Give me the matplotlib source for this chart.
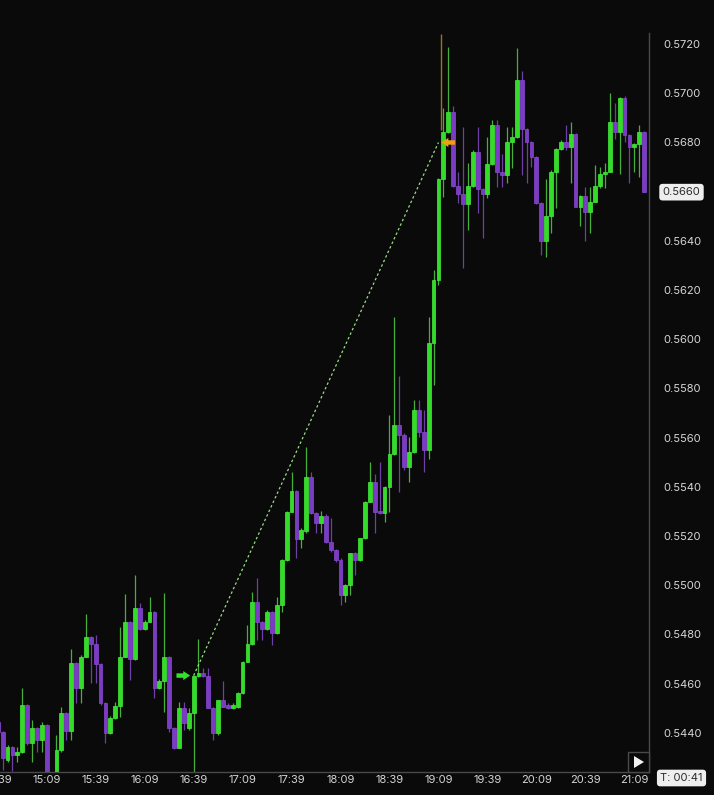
import numpy as np
import matplotlib
matplotlib.use("Agg")
import matplotlib.pyplot as plt
from matplotlib import transforms
from matplotlib.patches import Rectangle, Polygon

# ---------------- data (3-minute candles, first candle 14:39) ----------------
opens = [
    .54444, .54403, .54289, .54342, .54310, .54322, .54513, .54359, .54420, .54371,
    .54432, .54233, .54224, .54330, .54480, .54407, .54684, .54582, .54708, .54789,
    .54761, .54680, .54521, .54399, .54460, .54509, .54708, .54850, .54700, .54907,
    .54822, .54850, .54891, .54582, .54611, .54708, .54420, .54338, .54501, .54420,
    .54480, .54631, .54643, .54631, .54501, .54399, .54533, .54513, .54501, .54505,
    .54562, .54688, .54761, .54932, .54850, .54822, .54891, .54806, .54920, .55102,
    .55298, .55383, .55188, .55220, .55440, .55294, .55253, .55281, .55176, .55143,
    .55102, .54960, .55001, .55131, .55102, .55192, .55338, .55420, .55302, .55294,
    .55399, .55533, .55651, .55611, .55480, .55541, .55712, .55623, .55550, .55985,
    .56241, .56651, .56842, .56924, .56623, .56590, .56550, .56623, .56761, .56611,
    .56590, .56712, .56871, .56680, .56667, .56802, .56822, .57054, .56854, .56802,
    .56741, .56554, .56399, .56501, .56680, .56773, .56802, .56781, .56834, .56537,
    .56582, .56517, .56558, .56623, .56672, .56680, .56883, .56842, .56980, .56830,
    .56781, .56794, .56842]
highs = [
    .54452, .54407, .54350, .54346, .54342, .54582, .54517, .54452, .54424, .54444,
    .54436, .54233, .54391, .54505, .54485, .54741, .54688, .54716, .54883, .54794,
    .54798, .54684, .54525, .54468, .54525, .54830, .54964, .54855, .55042, .54928,
    .54859, .54952, .54895, .54619, .54968, .54712, .54424, .54525, .54525, .54501,
    .54635, .54781, .54663, .54663, .54505, .54533, .54611, .54521, .54521, .54566,
    .54692, .54838, .54972, .55029, .54855, .54899, .54895, .54952, .55107, .55302,
    .55460, .55387, .55233, .55562, .55460, .55298, .55302, .55289, .55273, .55147,
    .55111, .55005, .55131, .55135, .55192, .55342, .55501, .55452, .55501, .55403,
    .55692, .56090, .55850, .55619, .55602, .55753, .55753, .55712, .56090, .56281,
    .56655, .56940, .57188, .56948, .56680, .56863, .56716, .56769, .56863, .56615,
    .56822, .56891, .56891, .56753, .56863, .56863, .57184, .57090, .56859, .56806,
    .56745, .56558, .56651, .56688, .56777, .56810, .56871, .56883, .56838, .56586,
    .56619, .56619, .56708, .56700, .56716, .57001, .56960, .56985, .56989, .56834,
    .56798, .56871, .56846]
lows = [
    .54395, .54249, .54281, .54245, .54281, .54318, .54350, .54281, .54322, .54322,
    .54224, .54208, .54216, .54322, .54371, .54371, .54521, .54521, .54708, .54602,
    .54602, .54513, .54359, .54395, .54456, .54464, .54708, .54615, .54696, .54818,
    .54818, .54850, .54541, .54578, .54485, .54403, .54334, .54338, .54411, .54411,
    .54224, .54627, .54627, .54501, .54371, .54391, .54505, .54497, .54497, .54501,
    .54558, .54688, .54757, .54777, .54777, .54818, .54757, .54802, .54891, .55098,
    .55298, .55111, .55151, .55212, .55289, .55212, .55212, .55172, .55135, .55094,
    .54920, .54932, .54960, .55042, .55098, .55188, .55338, .55212, .55289, .55257,
    .55298, .55529, .55379, .55468, .55420, .55537, .55602, .55460, .55513, .55814,
    .56220, .56578, .56838, .56619, .56554, .56289, .56444, .56619, .56513, .56411,
    .56574, .56708, .56619, .56619, .56635, .56696, .56818, .56667, .56635, .56700,
    .56550, .56342, .56334, .56432, .56533, .56769, .56769, .56635, .56537, .56460,
    .56399, .56432, .56558, .56615, .56615, .56680, .56814, .56672, .56802, .56635,
    .56680, .56659, .56598]
closes = [
    .54403, .54298, .54342, .54310, .54322, .54513, .54359, .54420, .54371, .54432,
    .54233, .54220, .54330, .54480, .54407, .54684, .54582, .54708, .54789, .54761,
    .54680, .54521, .54399, .54460, .54509, .54708, .54850, .54700, .54907, .54822,
    .54850, .54891, .54582, .54611, .54708, .54420, .54338, .54501, .54440, .54480,
    .54631, .54643, .54631, .54501, .54399, .54533, .54505, .54501, .54513, .54562,
    .54688, .54761, .54932, .54850, .54822, .54891, .54806, .54920, .55102, .55298,
    .55383, .55188, .55224, .55440, .55294, .55253, .55281, .55176, .55143, .55102,
    .54960, .55001, .55131, .55102, .55192, .55338, .55420, .55298, .55294, .55399,
    .55533, .55651, .55611, .55480, .55541, .55712, .55623, .55550, .55985, .56241,
    .56651, .56842, .56924, .56623, .56590, .56550, .56623, .56761, .56611, .56590,
    .56712, .56871, .56680, .56667, .56802, .56822, .57054, .56854, .56802, .56741,
    .56554, .56399, .56501, .56680, .56773, .56802, .56781, .56834, .56537, .56582,
    .56517, .56558, .56623, .56672, .56680, .56883, .56842, .56980, .56830, .56781,
    .56794, .56842, .56598]

time_labels = ["14:39", "15:09", "15:39", "16:09", "16:39", "17:09", "17:39",
               "18:09", "18:39", "19:09", "19:39", "20:09", "20:39", "21:09"]
label_every = 10  # candles between labels (30 min)

y_ticks = [0.5440, 0.5460, 0.5480, 0.5500, 0.5520, 0.5540, 0.5560, 0.5580,
           0.5600, 0.5620, 0.5640, 0.5680, 0.5700, 0.5720]

# trade markers
entry_idx, entry_price = 40, 0.54633
exit_idx, exit_price = 90, 0.56800
exit_line_idx, exit_line_top, exit_line_bottom = 90.45, 0.57241, 0.56850

timer_text = "T: 00:41"

# ---------------- style ----------------
BG = "#0a0a0a"
GREEN = "#34dc2a"
GREEN_EDGE = "#44ef3a"
GREEN_WICK = "#47b03a"
PURPLE = "#7a3cc2"
PURPLE_EDGE = "#8a47d6"
PURPLE_WICK = "#6e3fa6"
TXT = "#d6d6d6"
LINE = "#4a4a4a"

plt.rcParams['font.family'] = ['Inter', 'DejaVu Sans']

W, H = 714, 795
fig = plt.figure(figsize=(W / 100, H / 100), dpi=100, facecolor=BG)


def fx(px):
    return px / W


def fy(py):
    return 1 - py / H


ax = fig.add_axes([0, fy(772), fx(649), fy(33) - fy(772)])
ax.set_facecolor(BG)

o = np.array(opens)
h = np.array(highs)
l = np.array(lows)
c = np.array(closes)
t = np.arange(len(o))
up = c >= o

wick_cols = [GREEN_WICK if u else PURPLE_WICK for u in up]
face_cols = [GREEN if u else PURPLE for u in up]
edge_cols = [GREEN_EDGE if u else PURPLE_EDGE for u in up]

ax.vlines(t, l, h, colors=wick_cols, lw=0.9, zorder=2)
body_bottom = np.minimum(o, c)
body_h = np.maximum(np.abs(c - o), 0.00004)
ax.bar(t, body_h, bottom=body_bottom, width=0.78, color=face_cols,
       edgecolor=edge_cols, linewidth=0.5, zorder=3)

# trade path
ax.plot([entry_idx, exit_idx], [entry_price, exit_price], color="#98dc88",
        lw=0.9, ls=(0, (2, 2)), zorder=4)
ax.vlines(exit_line_idx, exit_line_bottom, exit_line_top, colors="#9c7418",
          lw=1.0, zorder=1)
arrow_style = "simple,head_length=0.5,head_width=0.65,tail_width=0.32"
ax.annotate("", xy=(entry_idx - 0.7, entry_price), xytext=(entry_idx - 3.5, entry_price),
            arrowprops=dict(arrowstyle=arrow_style, color="#2fe32a", lw=0,
                            shrinkA=0, shrinkB=0, mutation_scale=10), zorder=5)
ax.annotate("", xy=(exit_idx + 0.6, exit_price), xytext=(exit_idx + 3.4, exit_price),
            arrowprops=dict(arrowstyle=arrow_style, color="#f0a010", lw=0,
                            shrinkA=0, shrinkB=0, mutation_scale=10), zorder=5)

ax.set_xlim(0.464, 133.0)
ax.set_ylim(0.54241, 0.57245)

for s in ("top", "left"):
    ax.spines[s].set_visible(False)
for s in ("right", "bottom"):
    ax.spines[s].set_color(LINE)
    ax.spines[s].set_linewidth(1.0)

ax.set_xticks([])
ax.yaxis.tick_right()
ax.set_yticks(y_ticks)
ax.set_yticklabels([f"{v:.4f}" for v in y_ticks])
ax.tick_params(axis="y", length=0, pad=10, labelsize=8, labelcolor=TXT)

# time labels (drawn as text so the partial first one gets cut by the edge)
trans_x = transforms.blended_transform_factory(ax.transData, fig.transFigure)
for i, lab in enumerate(time_labels):
    ax.text(i * label_every, fy(780), lab, transform=trans_x, ha="center",
            va="center", fontsize=8, color=TXT, clip_on=False)

# current price box
trans_y = transforms.blended_transform_factory(fig.transFigure, ax.transData)
ax.text(fx(681.5), closes[-1], f"{closes[-1]:.4f}", transform=trans_y,
        ha="center", va="center", fontsize=8, color="#2a2a2a", clip_on=False,
        bbox=dict(boxstyle="round,pad=0.3,rounding_size=0.3", fc="#eeeeee", ec="none"))

# timer box
fig.text(fx(681.5), fy(778), timer_text, ha="center", va="center", fontsize=8,
         color="#2a2a2a",
         bbox=dict(boxstyle="round,pad=0.3,rounding_size=0.3", fc="#eeeeee", ec="none"))

# play button
fig.patches.append(Rectangle((fx(628), fy(772)), fx(649) - fx(628), fy(752) - fy(772),
                             transform=fig.transFigure, fc=BG, ec=LINE, lw=1.0, zorder=6))
fig.patches.append(Polygon([(fx(634), fy(756)), (fx(634), fy(768)), (fx(644), fy(762))],
                           closed=True, transform=fig.transFigure, fc="#f2f2f2", ec="none", zorder=7))

fig.savefig("out.png", dpi=100, facecolor=BG)
